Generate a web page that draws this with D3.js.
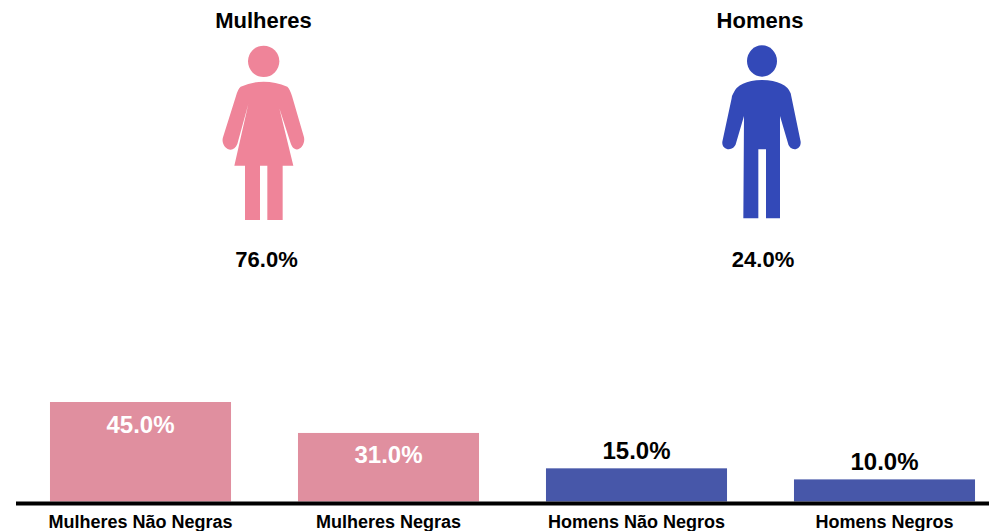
<!DOCTYPE html>
<html>
<head>
<meta charset="utf-8">
<script src="https://cdn.jsdelivr.net/npm/d3@7"></script>
<style>
    html, body { margin: 0; padding: 0; background: #fff; overflow: hidden; }
    text { font-family: "Liberation Sans", Arial, sans-serif; font-weight: bold; }
</style>
</head>
<body>
<svg width="989" height="531"></svg>
<script>
const groups = ["Mulheres", "Homens"]
const groupValues = [76.0, 24.0]
const categories = ["Mulheres Não Negras", "Mulheres Negras", "Homens Não Negros", "Homens Negros"]
const values = [45.0, 31.0, 15.0, 10.0]

const groupColors = ["#ef8499", "#3349b8"]
const barColors = ["#e08f9f", "#e08f9f", "#4757a9", "#4757a9"]

// pictograms, 3 units = 1px
const womanIcon = "M122,170 Q190,140 262,170 Q270,178 276,198 L312,322 C318,350 285,378 272,340 L238,235 L280,407 L248,407 L248,570 L202,570 L202,407 L180,407 L180,570 L135,570 L135,407 L103,407 L145,222 L112,342 C98,378 60,350 69,322 L108,198 Q113,178 122,170 Z"
const manIcon = "M100,190 Q115,152 186,150 Q258,152 272,190 L302,335 C304,362 270,366 264,340 L240,258 L240,565 L198,565 L198,358 L175,358 L175,565 L130,565 L132,258 L108,340 C102,366 64,362 67,335 L95,205 Q96,196 100,190 Z"
const icons = [
    {body: womanIcon, cx: 191, cy: 94, rx: 47, ry: 47},
    {body: manIcon, cx: 186, cy: 93, rx: 45, ry: 47}
]

const svg = d3.select("svg")

const groupX = d3.scalePoint().domain(groups).range([263.5, 760])
const x = d3.scaleBand().domain(categories).range([16.5, 1008.5]).paddingInner(0.27).paddingOuter(0.135)
const y = d3.scaleLinear().domain([0, 45]).range([501.5, 402])

function drawGroups(){
    const g = svg.selectAll("g.group")
        .data(groups)
        .enter()
        .append("g")
        .attr("class", "group")
        .attr("transform", d => `translate(${groupX(d)}, 0)`)

    g.append("text")
        .text(d => d)
        .attr("y", 28)
        .style("text-anchor", "middle")
        .style("font-size", "22px")

    g.append("text")
        .text((d, i) => groupValues[i].toFixed(1) + "%")
        .attr("x", 3)
        .attr("y", 267)
        .style("text-anchor", "middle")
        .style("font-size", "22px")

    // icon origin: woman's crop starts at 200,30 and man's at 700,30
    const icon = g.append("g")
        .attr("transform", (d, i) => `translate(${(i === 0 ? 200 : 700) - groupX(d)}, 30) scale(${1 / 3})`)
        .style("fill", (d, i) => groupColors[i])

    icon.append("ellipse")
        .attr("cx", (d, i) => icons[i].cx)
        .attr("cy", (d, i) => icons[i].cy)
        .attr("rx", (d, i) => icons[i].rx)
        .attr("ry", (d, i) => icons[i].ry)

    icon.append("path")
        .attr("d", (d, i) => icons[i].body)
}

function drawBars(){
    svg.append("g")
        .selectAll("rect.bar")
        .data(categories)
        .enter()
        .append("rect")
        .attr("class", "bar")
        .attr("x", d => x(d))
        .attr("width", x.bandwidth())
        .attr("y", (d, i) => y(values[i]))
        .attr("height", (d, i) => y(0) - y(values[i]))
        .style("fill", (d, i) => barColors[i])

    svg.append("line")
        .attr("x1", 16)
        .attr("x2", 989)
        .attr("y1", y(0) + 2)
        .attr("y2", y(0) + 2)
        .style("stroke", "#000")
        .style("stroke-width", 4)

    // labels sit inside the tall bars, above the short ones
    svg.append("g")
        .selectAll("text.value")
        .data(categories)
        .enter()
        .append("text")
        .attr("class", "value")
        .text((d, i) => values[i].toFixed(1) + "%")
        .attr("x", d => x(d) + x.bandwidth() / 2)
        .attr("y", (d, i) => y(values[i]) + (values[i] > 20 ? 30.5 : -9))
        .style("text-anchor", "middle")
        .style("font-size", "24px")
        .style("fill", (d, i) => values[i] > 20 ? "#fff" : "#000")

    svg.append("g")
        .selectAll("text.category")
        .data(categories)
        .enter()
        .append("text")
        .attr("class", "category")
        .text(d => d)
        .attr("x", d => x(d) + x.bandwidth() / 2)
        .attr("y", 528)
        .style("text-anchor", "middle")
        .style("font-size", "18px")
}

drawGroups()
drawBars()
</script>
</body>
</html>
